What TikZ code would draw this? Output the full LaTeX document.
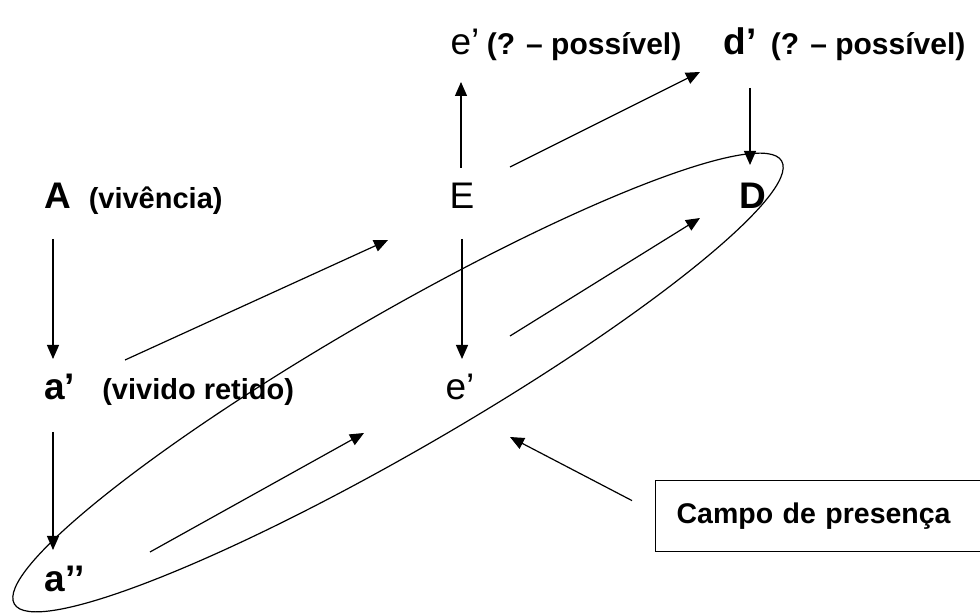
\documentclass[tikz,border=0pt]{standalone}
\usepackage{fontspec}
\setmainfont{Liberation Sans}
\usepackage{tikz}
\usetikzlibrary{arrows.meta, calc, positioning, shapes.geometric}
\usepackage{xcolor}
\definecolor{RichBlack}{gray}{0}
\tikzset{%
  letter/.style={%
    inner sep=0pt,%
    anchor=base,%
    font={\fontsize{37}{42}\selectfont},%
  },
  letter_bold/.style={%
    letter,%
    font={\fontsize{37}{42}\selectfont\bfseries},%
  },
  annotate/.style={%
    inner sep=0pt,%
    font={\fontsize{29}{34}\selectfont\bfseries},%
  },
  annotate_top/.style={%
    annotate,%
    font={\fontsize{30}{34}\selectfont\bfseries},%
  },
  field_box/.style={%
    draw=RichBlack,%
    rectangle,%
    line width=1.2pt,%
    minimum height=71pt,%
    text width=330pt,%
    inner xsep=21pt,%
    align=left,%
    font={\fontsize{28.5}{34}\selectfont\bfseries},%
  },
  field_ellipse/.style={%
    draw=RichBlack,%
    ellipse,%
    line width=1.2pt,%
    inner sep=0pt,%
    minimum width=886pt,%
    minimum height=137pt,%
  },
  smooth_path/.style={%
    color=RichBlack,%
    line width=1.2pt,%
    line join=round,%
  },
  arrow/.style={-{Triangle[length=14pt, width=12pt]}},
}
\begin{document}
\begin{tikzpicture}[x=1pt, y=1pt]

    \useasboundingbox (0, 0) rectangle (980, 613);
    \clip (0, 0) rectangle (980, 613);

    \node [letter] (eP) at (465, 558) {e’};
    \node [annotate_top, right = 7 of eP.base east, anchor=base west] (eP_note) {(? – possível)};
    \node [letter_bold] (dP) at (740, 558) {d’};
    \node [annotate_top, right = 14 of dP.base east, anchor=base west] (dP_note) {(? – possível)};

    \node [letter_bold] (A) at (58, 404) {A};
    \node [annotate, right = 17 of A.base east, anchor=base west] (A_note) {(vivência)};
    \node [letter] (E) at (462, 404) {E};
    \node [letter_bold] (D) at (753, 404) {D};

    \node [letter_bold] (aP) at (59.5, 213) {a’};
    \node [annotate, right = 27 of aP.base east, anchor=base west] (aP_note) {(vivido retido)};
    \node [letter] (eM) at (460, 213) {e’};

    \node [letter_bold] (aPP) at (64.5, 21) {a’’};

    \node [field_ellipse, rotate=30] (campo) at (398, 230.5) {};
    \node [field_box, anchor=north west] (box) at (655, 133) {Campo de presença};

    \draw [arrow, smooth_path]
      ([shift={(-1, 41)}]E.base)
      --
      ([shift={(-4, -27)}]eP.base);
    \draw [arrow, smooth_path]
      ([shift={(48, 42)}]E.base)
      --
      ([shift={(-40, -17)}]dP.base);
    \draw [arrow, smooth_path]
      ([shift={(10, -33)}]dP.base)
      --
      ([shift={(-3, 44)}]D.base);

    \draw [arrow, smooth_path]
      ([shift={(-5, -30)}]A.base)
      --
      ([shift={(-6.5, 41)}]aP.base);
    \draw [arrow, smooth_path]
      ([shift={(65.5, 40)}]aP.base)
      --
      ([shift={(-74, -31)}]E.base);
    \draw [arrow, smooth_path]
      ([shift={(0, -30)}]E.base)
      --
      ([shift={(2, 41)}]eM.base);
    \draw [arrow, smooth_path]
      ([shift={(50, 64)}]eM.base)
      --
      ([shift={(-53, -9)}]D.base);

    \draw [arrow, smooth_path]
      ([shift={(-6.5, -32)}]aP.base)
      --
      ([shift={(-11.5, 42)}]aPP.base);
    \draw [arrow, smooth_path]
      ([shift={(85.5, 40)}]aPP.base)
      --
      ([shift={(-96, -33)}]eM.base);

    \draw [arrow, smooth_path]
      ([shift={(-23, 15.5)}]box.west)
      --
      ([shift={(112, -54.5)}]campo.center);

  \end{tikzpicture}
\end{document}
